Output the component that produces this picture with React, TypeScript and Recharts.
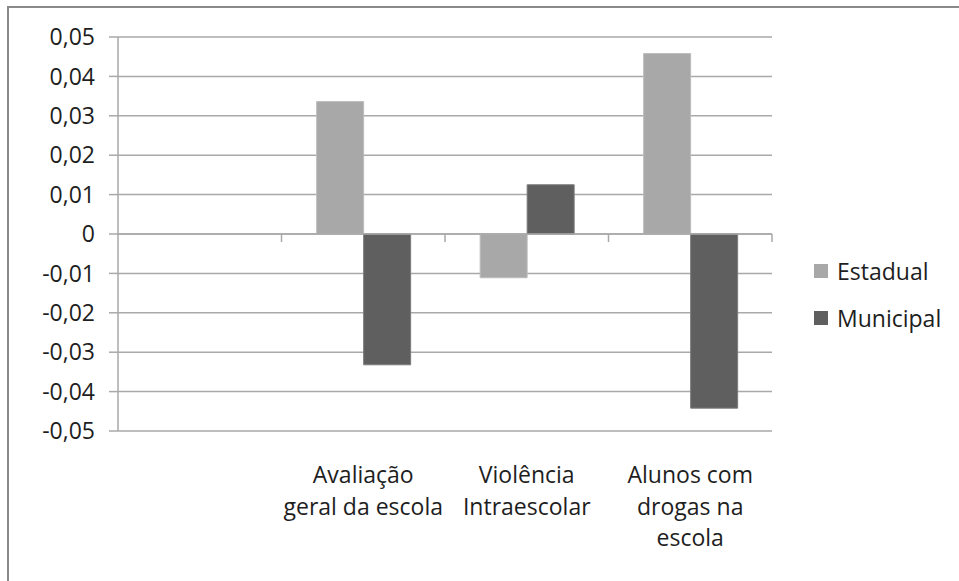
import { BarChart, Bar, XAxis, YAxis, CartesianGrid, ReferenceLine } from 'recharts';

const categories = ['', 'Avaliação\ngeral da escola', 'Violência\nIntraescolar', 'Alunos com\ndrogas na\nescola'];
const estadual = [null, 0.0336, -0.0111, 0.0458];
const municipal = [null, -0.0332, 0.0125, -0.0442];
const yTicks = [-0.05, -0.04, -0.03, -0.02, -0.01, 0, 0.01, 0.02, 0.03, 0.04, 0.05];

const series = [
  { key: 'estadual', name: 'Estadual', fill: '#a8a8a8', stroke: '#bcbcbc' },
  { key: 'municipal', name: 'Municipal', fill: '#5f5f5f', stroke: '#7c7c7c' },
];

const data = categories.map((name, i) => ({
  name,
  estadual: estadual[i],
  municipal: municipal[i],
}));

const FONT = '"Open Sans", Lato, sans-serif';
const GRID = '#a9a9a9';
const TEXT = '#1e1e1e';
const FS = 23;

const fmt = (v: number) => (v === 0 ? '0' : v.toFixed(2).replace('.', ','));

function CategoryTick(props: any) {
  const { x, y, payload } = props;
  const lines = String(payload.value).split('\n');
  return (
    <text x={x} y={y} textAnchor="middle" fill={TEXT} fontSize={FS} fontFamily={FONT}>
      {lines.map((line, i) => (
        <tspan key={i} x={x} dy={i === 0 ? 44 : 31.5}>
          {line}
        </tspan>
      ))}
    </text>
  );
}

// zero line with tick marks on category boundaries
function ZeroLine(props: any) {
  const { x1, x2, y1 } = props;
  const step = (x2 - x1) / categories.length;
  return (
    <g>
      <line x1={x1} x2={x2} y1={y1} y2={y1} stroke={GRID} strokeWidth={1.5} />
      {categories.map((_, i) => (
        <line key={i} x1={x1 + step * (i + 1)} x2={x1 + step * (i + 1)} y1={y1} y2={y1 + 8} stroke={GRID} strokeWidth={1.5} />
      ))}
    </g>
  );
}

function LegendBox() {
  return (
    <div style={{ position: 'absolute', left: 814, top: 247, fontFamily: FONT, fontSize: FS, color: TEXT }}>
      {series.map((s) => (
        <div key={s.key} style={{ display: 'flex', alignItems: 'center', height: 47 }}>
          <span style={{ width: 14, height: 14, background: s.fill, display: 'inline-block', marginRight: 9 }} />
          <span>{s.name}</span>
        </div>
      ))}
    </div>
  );
}

export default function App() {
  return (
    <div style={{ position: 'absolute', left: 0, top: 0, width: 959, height: 581, background: '#fff', overflow: 'hidden' }}>
      <div
        style={{
          position: 'absolute',
          left: 7,
          top: 6,
          width: 980,
          height: 600,
          borderLeft: '2px solid #8a8a8a',
          borderTop: '2px solid #8a8a8a',
        }}
      />
      <div style={{ position: 'absolute', left: 0, top: 0 }}>
        <BarChart
          width={959}
          height={581}
          data={data}
          margin={{ top: 37, right: 187, bottom: 0, left: 0 }}
          barCategoryGap="21.5%"
          barGap={0}
        >
          <CartesianGrid vertical={false} stroke={GRID} strokeWidth={1.5} />
          <XAxis dataKey="name" axisLine={false} tickLine={false} interval={0} tick={<CategoryTick />} height={150} />
          <YAxis
            width={118}
            domain={[-0.05, 0.05]}
            ticks={yTicks}
            interval={0}
            tickFormatter={fmt}
            axisLine={{ stroke: GRID, strokeWidth: 1.5 }}
            tickLine={{ stroke: GRID, strokeWidth: 1.5 }}
            tickSize={9}
            tickMargin={14}
            tick={{ fill: TEXT, fontSize: FS, fontFamily: FONT }}
            allowDataOverflow
          />
          <ReferenceLine y={0} shape={<ZeroLine />} />
          {series.map((s) => (
            <Bar key={s.key} dataKey={s.key} name={s.name} fill={s.fill} stroke={s.stroke} strokeWidth={1} isAnimationActive={false} />
          ))}
        </BarChart>
      </div>
      <LegendBox />
    </div>
  );
}
